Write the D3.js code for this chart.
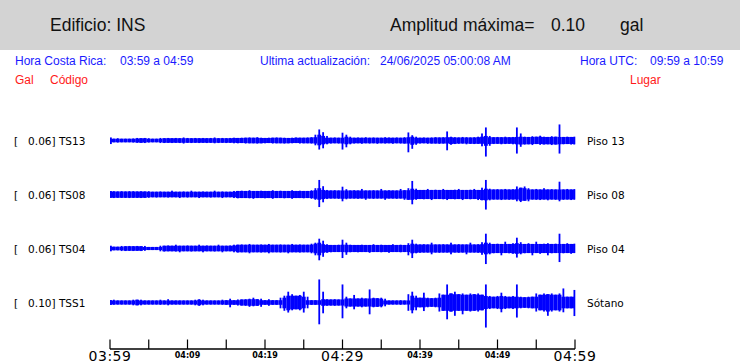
<!DOCTYPE html>
<html>
<head>
<meta charset="utf-8">
<script src="https://cdn.jsdelivr.net/npm/d3@7"></script>
<style>
  body { margin: 0; background: #fff; }
</style>
</head>
<body>
<script>
// dimensiones
var w = 740, h = 363

// estaciones
var codigos = ["TS13", "TS08", "TS04", "TSS1"]
var lugares = ["Piso 13", "Piso 08", "Piso 04", "Sótano"]
var maximos = ["0.06", "0.06", "0.06", "0.10"]

// eje de tiempo (minutos desde 03:59), etiquetas
var tickMin = [0, 5, 10, 15, 20, 25, 30, 35, 40, 45, 50, 55, 60]
var etiquetas = {0: "03:59", 10: "04:09", 20: "04:19", 30: "04:29", 40: "04:39", 50: "04:49", 60: "04:59"}
var grandes = [0, 30, 60]

// envolvente, en mgal, una muestra cada 0.5 min (121 muestras)
var ts13Up = [9,
  4,6,4,4,4,5,7,6,7,6,4,4,
  7,6,7,6,7,6,9,7,6,7,6,7,6,7,9,6,7,6,7,
  8,7,8,8,9,8,10,8,7,8,8,9,8,8,7,8,9,8,8,9,10,
  20,41,30,15, 8,9,8, 28,20,12,
  8,9,8,10,8,9,8,8,10,9,8,9,8,10,
  29,18,12, 8,9,8,9,10,9,10, 33,12,
  10,9,11,10,9,10,12, 25,49,15, 10,11,10,12,10,11, 49,25,
  12,11,14,12,16,12,11,14,12, 61, 11,12,11,12]
var ts13Dn = [11,
  4,5,4,4,4,5,6,6,7,5,4,4,
  7,7,6,7,6,7,9,6,7,6,7,6,7,6,8,7,6,7,6,
  8,8,7,9,8,8,9,8,8,7,9,8,8,9,8,8,7,9,8,8,9,
  16,33,28,12, 9,8,9, 33,24,12,
  9,8,10,8,9,8,10,8,9,8,10,8,9,9,
  44,30,14, 9,8,10,9,9,10,9, 36,14,
  11,10,9,12,10,11,10, 20,61,18, 11,10,12,11,10,12, 49,22,
  13,12,15,11,14,13,12,15,13, 49, 12,11,13,12]

var ts08Up = [10,10,9,10,9,10,10,9,10,9,10,
  8,8,9,8,8,12,8,8,9,8,12,8,8,9,8,8,12,8,9,8,8,
  11,11,12,11,14,11,11,12,11,11,14,11,12,11,11,14,11,12,11,11,14,
  22,55,30,15, 13,14,13, 28,18,
  13,14,13,19,13,13,14,13,19,13,14,13,13,19,14,
  22,51,20,
  15,15,19,15,16,15,19,15,15,16,19,15,15,16,19,15,
  24,55,20, 17,18,17,19,17,18, 29,24,29,22,
  17,19,17,22,17,18,17, 48, 17,19,17,18]
var ts08Dn = [10,11,10,10,10,11,10,10,11,10,10,
  8,9,8,8,9,8,8,11,8,9,8,8,11,8,8,9,8,8,11,8,8,
  11,12,11,11,12,14,11,11,12,11,14,11,11,12,11,14,11,11,12,11,14,
  18,47,28,15, 13,13,14, 24,16,
  13,13,14,13,18,13,14,13,13,18,13,13,14,13,18,
  18,36,18,
  15,16,15,19,15,15,16,19,15,16,15,19,15,16,15,19,
  20,57,20, 17,17,19,17,18,17, 24,27,22,24,
  17,18,19,17,20,17,18, 24, 18,17,19,17]

var ts04Up = [8, 4,4, 7,6,7,6,7,6,7, 3,3,3,
  8,8,9,8,12,8,8,9,8,8,12,8,9,8,8,12,8,8,9,
  12,12,13,12,15,12,12,13,12,15,12,12,13,12,12,15,12,13,12,12,16,
  20,36,28,14, 11,11,12, 32,20,12,
  11,11,12,11,11,14,11,12,11,11,14,11,12,11,
  18,32,16,
  13,14,13,20,13,13,14,13,20,13,14,13,13,20,13,14,
  22,56,20, 15,16,15,24,15,18, 40,22,
  15,18,15,24,15,16,18,15,16, 56, 15,18,15,16]
var ts04Dn = [8, 4,4, 7,7,6,7,6,7,6, 3,3,3,
  8,9,8,8,9,12,8,8,9,8,8,12,8,8,9,8,12,8,8,
  12,13,12,12,16,12,12,13,12,16,12,12,13,12,16,12,12,13,12,12,16,
  24,44,30,14, 12,11,11, 35,22,12,
  11,12,11,11,14,11,11,12,11,14,11,11,12,11,
  24,35,16,
  14,13,13,20,13,14,13,13,20,13,14,13,20,13,13,14,
  22,59,20, 16,15,24,15,16,18, 33,20,
  16,15,24,15,18,15,24,16,15, 51, 16,15,18,15]

var tss1Up = [6,
  8,5,5,5,5,8,8,8,5,5,5,5,8,5,10,5,5,5,5,5,5,8,10,8,5,5,5,5,8,6,12,6,9,9,10,12,16,10,12,6,10,6,6,
  16,24,40,30,24,27,40,20, 6,6,
  89,40,10, 9,10,9, 69,20,
  13,27,13,16,13, 49, 16,14,16,12, 5,5,5,6,5,
  30,40,24, 16,36,16,14,16,
  33,28,69,33,40,30,33,28,33,30,33,28, 69,
  23,20,23,36,23,20,23, 69, 20,18,20,20,
  33,28,33,30,33,28,33,53,20,20, 47]
var tss1Dn = [6,
  6,5,5,5,5,8,8,8,5,5,5,5,6,5,8,5,5,5,5,5,5,8,10,8,5,5,5,5,6,6,16,6,9,9,10,14,12,10,14,6,10,6,6,
  20,30,37,28,24,28,37,20, 6,6,
  84,40,10, 9,10,9, 60,20,
  13,24,13,16,13, 44, 16,14,16,12, 5,5,5,6,5,
  30,40,28, 16,31,16,14,16,
  33,30,64,33,50,30,44,30,33,30,33,28, 97,
  23,20,23,36,23,20,23, 57, 20,18,20,20,
  33,28,33,50,33,28,33,36,20,20, 51]

var arriba = [ts13Up, ts08Up, ts04Up, tss1Up]
var abajo = [ts13Dn, ts08Dn, ts04Dn, tss1Dn]
var minutos = d3.range(121).map(function(i) { return i * 0.5 })

// escalas
var x = d3.scaleLinear().domain([0, 60]).range([110, 575])
var fila = d3.scalePoint().domain(codigos).range([140.5, 302.5])
var amp = d3.scaleLinear().domain([0, 100]).range([0, 25]) // 0.10 gal = 25 px
var paso = x(0.5) - x(0)
var pluma = 0.8 // medio grosor de la linea de la traza

// nucleo de la banda: minimo con las muestras vecinas
function nucleo(arr, i) {
  var a = arr[Math.max(0, i - 1)], b = arr[i], c = arr[Math.min(arr.length - 1, i + 1)]
  return Math.min(a, b, c)
}

var svg = d3.select("body").append("svg")
  .attr("width", w)
  .attr("height", h)

// encabezado gris
svg.append("rect").attr("x", 0).attr("y", 0).attr("width", w).attr("height", 50)
  .attr("fill", "#d3d3d3")

var enc = [
  {t: "Edificio: INS", x: 50},
  {t: "Amplitud máxima=", x: 390},
  {t: maximos[3], x: 551},
  {t: "gal", x: 620}
]
svg.selectAll(".enc").data(enc).enter().append("text")
  .attr("class", "enc")
  .attr("x", function(d) { return d.x })
  .attr("y", 31)
  .style("font-family", "'Liberation Sans', Arial, sans-serif")
  .style("font-size", "17.5px")
  .attr("fill", "#111")
  .text(function(d) { return d.t })

var azul = [
  {t: "Hora Costa Rica:", x: 15},
  {t: "03:59 a 04:59", x: 120},
  {t: "Ultima actualización:", x: 260},
  {t: "24/06/2025 05:00:08 AM", x: 380},
  {t: "Hora UTC:", x: 580},
  {t: "09:59 a 10:59", x: 650}
]
svg.selectAll(".azul").data(azul).enter().append("text")
  .attr("class", "azul")
  .attr("x", function(d) { return d.x })
  .attr("y", 65)
  .style("font-family", "'Liberation Sans', Arial, sans-serif")
  .style("font-size", "12px")
  .attr("fill", "#1a1aff")
  .text(function(d) { return d.t })

var rojo = [{t: "Gal", x: 15}, {t: "Código", x: 50}, {t: "Lugar", x: 630}]
svg.selectAll(".rojo").data(rojo).enter().append("text")
  .attr("class", "rojo")
  .attr("x", function(d) { return d.x })
  .attr("y", 84)
  .style("font-family", "'Liberation Sans', Arial, sans-serif")
  .style("font-size", "12px")
  .attr("fill", "#ff1a1a")
  .text(function(d) { return d.t })

// trazas
codigos.forEach(function(c, k) {
  var y0 = fila(c)
  var g = svg.append("g").attr("fill", "#0000ff")
  // banda continua
  g.selectAll(".nuc").data(minutos).enter().append("rect")
    .attr("class", "nuc")
    .attr("x", function(d) { return Math.max(110, x(d) - paso / 2) })
    .attr("width", function(d) {
      var a = Math.max(110, x(d) - paso / 2), b = Math.min(575, x(d) + paso / 2)
      return b - a
    })
    .attr("y", function(d, i) { return y0 - amp(nucleo(arriba[k], i)) - pluma })
    .attr("height", function(d, i) { return amp(nucleo(arriba[k], i)) + amp(nucleo(abajo[k], i)) + 2 * pluma })
  // picos
  g.selectAll(".pico").data(minutos).enter().append("rect")
    .attr("class", "pico")
    .attr("x", function(d) { return Math.min(573.5, Math.max(110, x(d) - 0.9)) })
    .attr("width", 1.8)
    .attr("y", function(d, i) { return y0 - amp(arriba[k][i]) - pluma })
    .attr("height", function(d, i) { return amp(arriba[k][i]) + amp(abajo[k][i]) + 2 * pluma })

  svg.append("text")
    .attr("x", 14).attr("y", y0 + 4)
    .style("font-family", "'DejaVu Sans', sans-serif").style("font-size", "10.5px")
    .text("[\u00a0\u00a0\u00a0" + maximos[k] + "] " + c)

  svg.append("text")
    .attr("x", 587).attr("y", y0 + 4)
    .style("font-family", "'DejaVu Sans', sans-serif").style("font-size", "10.5px")
    .text(lugares[k])
})

// eje de tiempo
var eje = svg.append("g")
eje.append("line").attr("x1", x(0)).attr("x2", x(60)).attr("y1", 349).attr("y2", 349)
  .attr("stroke", "#000").attr("stroke-width", 1.3)
eje.selectAll(".tick").data(tickMin).enter().append("line")
  .attr("x1", function(d) { return x(d) }).attr("x2", function(d) { return x(d) })
  .attr("y1", 339.5).attr("y2", 349)
  .attr("stroke", "#000").attr("stroke-width", 1.2)
eje.selectAll(".lab").data(tickMin.filter(function(d) { return etiquetas[d] })).enter().append("text")
  .attr("x", function(d) { return x(d) })
  .attr("y", function(d) { return grandes.indexOf(d) >= 0 ? 361 : 357.5 })
  .attr("text-anchor", "middle")
  .style("font-family", "'DejaVu Sans', sans-serif")
  .style("font-size", function(d) { return grandes.indexOf(d) >= 0 ? "14px" : "8px" })
  .style("font-weight", function(d) { return grandes.indexOf(d) >= 0 ? "normal" : "bold" })
  .style("letter-spacing", function(d) { return grandes.indexOf(d) >= 0 ? "0.5px" : "0px" })
  .text(function(d) { return etiquetas[d] })
</script>
</body>
</html>
